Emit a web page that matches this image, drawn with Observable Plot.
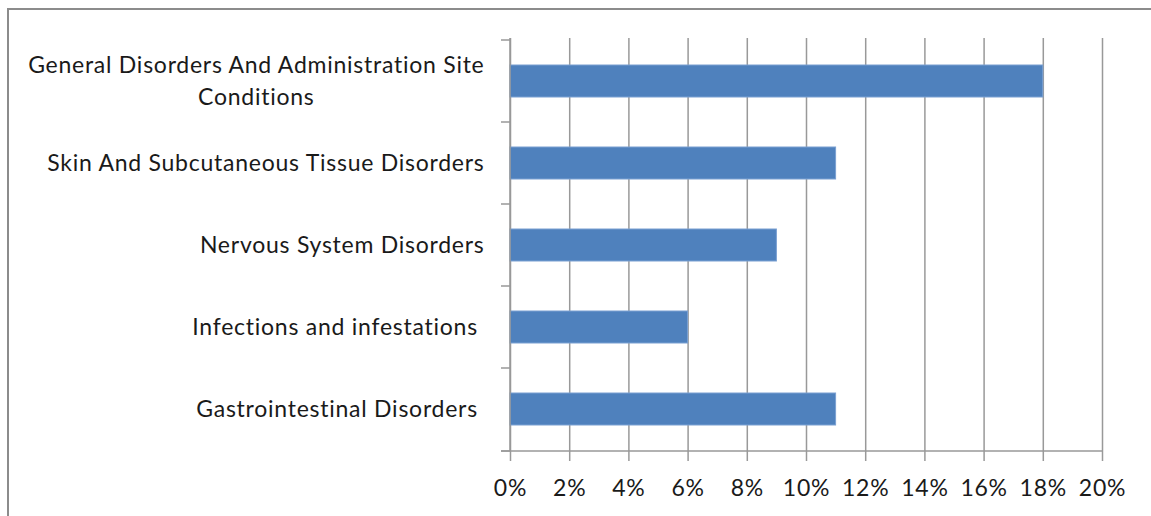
<!DOCTYPE html>
<html>
<head>
<meta charset="utf-8">
<script src="https://cdn.jsdelivr.net/npm/d3@7"></script>
<script src="https://cdn.jsdelivr.net/npm/@observablehq/plot@0.6"></script>
<style>
  html, body { margin: 0; padding: 0; background: #fff; overflow: hidden; }
  #wrap { position: relative; width: 1151px; height: 516px; }
  #border { position: absolute; left: 7px; top: 8px; width: 1200px; height: 600px;
            border: 2px solid #8c8c8c; box-sizing: border-box; pointer-events: none; }
  #chart { position: absolute; left: 0; top: 0; }
  #chart svg text { white-space: pre; letter-spacing: 0.75px; }
</style>
</head>
<body>
<div id="wrap">
  <div id="chart"></div>
  <div id="border"></div>
</div>
<script>
// Adverse event categories (top to bottom) and their share of reports
const categories = [
  "General Disorders And Administration Site\nConditions",
  "Skin And Subcutaneous Tissue Disorders",
  "Nervous System Disorders",
  "Infections and infestations ",
  "Gastrointestinal Disorders "
];
const shares = [0.18, 0.11, 0.09, 0.06, 0.11];
const xTicks = [0, 0.02, 0.04, 0.06, 0.08, 0.10, 0.12, 0.14, 0.16, 0.18, 0.20];

const data = categories.map((category, i) => ({category, share: shares[i]}));

const lineColor = "#999";
const textColor = "#1a1a1a";
const fontFamily = "Lato, 'Open Sans', sans-serif";

// Category axis line with separator ticks at band edges, plus the value baseline
function categoryAxis(index, scales, values, dims) {
  const g = d3.create("svg:g")
    .attr("stroke", lineColor)
    .attr("stroke-width", 1.5)
    .attr("fill", "none");
  const x0 = scales.x(0);
  const xEnd = scales.x(xTicks[xTicks.length - 1]);
  const top = dims.marginTop;
  const bottom = dims.height - dims.marginBottom;
  const tick = 9;
  g.append("line").attr("x1", x0).attr("x2", x0).attr("y1", top).attr("y2", bottom);
  g.append("line").attr("x1", x0 - tick).attr("x2", xEnd).attr("y1", bottom).attr("y2", bottom);
  const edges = categories.map(c => scales.y(c)).concat([bottom]);
  for (const y of edges) {
    g.append("line").attr("x1", x0 - tick).attr("x2", x0).attr("y1", y).attr("y2", y);
  }
  return g.node();
}

const chart = Plot.plot({
  width: 1151,
  height: 516,
  marginLeft: 510,
  marginRight: 49,
  marginTop: 38,
  marginBottom: 65,
  style: {fontFamily, fontSize: "23px", color: textColor, background: "transparent"},
  x: {domain: [0, 0.2], ticks: xTicks, tickFormat: d3.format(".0%"), label: null},
  y: {domain: categories, padding: 0, label: null},
  marks: [
    Plot.gridX(xTicks, {stroke: lineColor, strokeOpacity: 1, strokeWidth: 1.5}),
    Plot.barX(data, {
      x: "share", y: "category",
      fill: "#4f81bd", stroke: "#7aa0d2", strokeWidth: 1,
      insetTop: 25, insetBottom: 25
    }),
    categoryAxis,
    Plot.axisX(xTicks, {
      tickFormat: d3.format(".0%"), tickSize: 10, tickPadding: 18,
      stroke: lineColor, strokeWidth: 1.5, fill: textColor, fontSize: 23, label: null
    }),
    Plot.axisY({
      tickSize: 0, tickPadding: 26, lineHeight: 1.4, dy: -3,
      fill: textColor, fontSize: 23, label: null
    })
  ]
});

document.getElementById("chart").append(chart);

// Center wrapped lines of a category label under its longest line
d3.select(chart).selectAll("text").each(function() {
  const spans = this.querySelectorAll("tspan");
  if (spans.length < 2) return;
  const widths = Array.from(spans, s => s.getComputedTextLength());
  const w = Math.max(...widths);
  this.setAttribute("text-anchor", "middle");
  spans.forEach(s => s.setAttribute("x", -w / 2));
});
</script>
</body>
</html>
